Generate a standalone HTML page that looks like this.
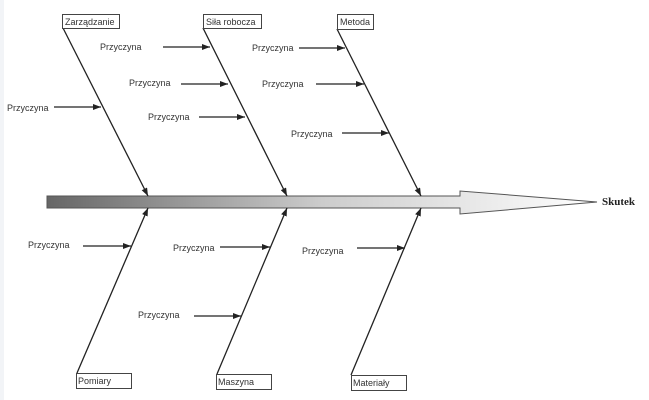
<!DOCTYPE html>
<html><head><meta charset="utf-8"><style>
html,body{margin:0;padding:0;background:#fff;}
svg{display:block;}
text{font-family:"Liberation Sans",sans-serif;font-size:9px;fill:#333;}
</style></head><body>
<svg width="649" height="400" viewBox="0 0 649 400" xmlns="http://www.w3.org/2000/svg">
<defs>
<linearGradient id="g" x1="47" y1="0" x2="597" y2="0" gradientUnits="userSpaceOnUse">
<stop offset="0" stop-color="#666"/><stop offset="0.5" stop-color="#ccc"/><stop offset="1" stop-color="#fff"/>
</linearGradient>
<marker id="a" markerWidth="8" markerHeight="6" refX="8" refY="3" orient="auto" markerUnits="userSpaceOnUse">
<path d="M0,0 L8,3 L0,6 z" fill="#222"/>
</marker>
</defs>
<rect x="0" y="0" width="4" height="400" fill="#f2f4f7"/>
<path d="M47,196 L460,196 L460,191 L597,202 L460,214 L460,208 L47,208 Z" fill="url(#g)" stroke="#555" stroke-width="1"/>
<text x="602" y="205" style="font-family:'Liberation Serif',serif;font-weight:bold;font-size:11px;fill:#222">Skutek</text>
<g stroke="#222" stroke-width="1.3" fill="none">
<line x1="63" y1="28" x2="148" y2="196" marker-end="url(#a)"/>
<line x1="203" y1="28" x2="287" y2="196" marker-end="url(#a)"/>
<line x1="337" y1="29" x2="421" y2="196" marker-end="url(#a)"/>
<line x1="77" y1="373" x2="148" y2="208" marker-end="url(#a)"/>
<line x1="217" y1="374" x2="287" y2="208" marker-end="url(#a)"/>
<line x1="351" y1="375" x2="421" y2="208" marker-end="url(#a)"/>
<line x1="54" y1="107" x2="101" y2="107" marker-end="url(#a)"/>
<line x1="163" y1="47" x2="210" y2="47" marker-end="url(#a)"/>
<line x1="181" y1="84" x2="228" y2="84" marker-end="url(#a)"/>
<line x1="199" y1="117" x2="245" y2="117" marker-end="url(#a)"/>
<line x1="299" y1="48" x2="345" y2="48" marker-end="url(#a)"/>
<line x1="316" y1="84" x2="364" y2="84" marker-end="url(#a)"/>
<line x1="342" y1="133" x2="389" y2="133" marker-end="url(#a)"/>
<line x1="83" y1="246" x2="131" y2="246" marker-end="url(#a)"/>
<line x1="220" y1="247" x2="270" y2="247" marker-end="url(#a)"/>
<line x1="194" y1="316" x2="241" y2="316" marker-end="url(#a)"/>
<line x1="357" y1="248" x2="405" y2="248" marker-end="url(#a)"/>
</g>
<g fill="#fff" stroke="#444" stroke-width="1">
<rect x="62.5" y="14.5" width="57" height="14"/>
<rect x="203.5" y="14.5" width="58" height="14"/>
<rect x="337.5" y="14.5" width="36" height="15"/>
<rect x="76.5" y="373.5" width="55" height="15"/>
<rect x="216.5" y="374.5" width="55" height="15"/>
<rect x="351.5" y="375.5" width="55" height="15"/>
</g>
<text x="65" y="25">Zarządzanie</text>
<text x="206" y="25">Siła robocza</text>
<text x="340" y="25">Metoda</text>
<text x="78" y="384">Pomiary</text>
<text x="218" y="385">Maszyna</text>
<text x="353" y="386">Materiały</text>
<text x="7" y="111">Przyczyna</text>
<text x="100" y="50">Przyczyna</text>
<text x="129" y="86">Przyczyna</text>
<text x="148" y="120">Przyczyna</text>
<text x="252" y="51">Przyczyna</text>
<text x="262" y="87">Przyczyna</text>
<text x="291" y="137">Przyczyna</text>
<text x="28" y="248">Przyczyna</text>
<text x="173" y="251">Przyczyna</text>
<text x="138" y="318">Przyczyna</text>
<text x="302" y="254">Przyczyna</text>
</svg>
</body></html>
